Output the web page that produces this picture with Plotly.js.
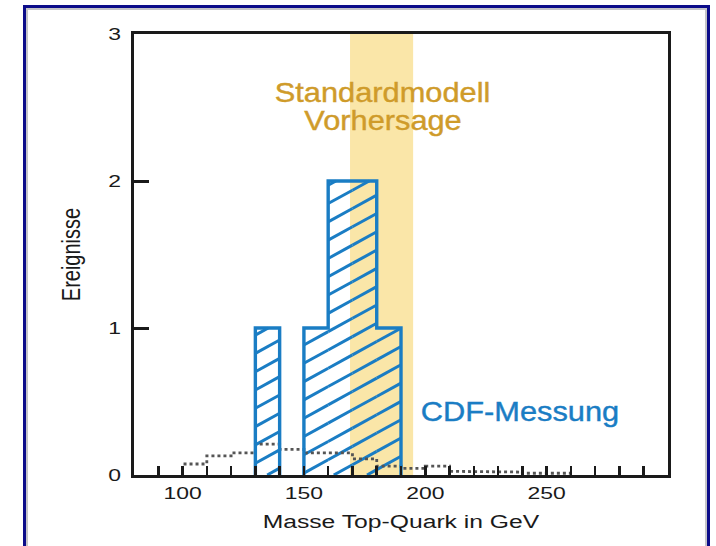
<!DOCTYPE html>
<html>
<head>
<meta charset="utf-8">
<script src="https://cdn.plot.ly/plotly-3.0.1.min.js"></script>
<style>
  html, body { margin:0; padding:0; background:#ffffff; overflow:hidden; }
  #wrap { position:relative; width:716px; height:546px; }
  #chart { position:absolute; left:0; top:0; width:716px; height:546px; }
  #frame { position:absolute; left:23px; top:5px; width:681px; height:560px;
           border:3.5px solid #0c0c8a; box-shadow: inset 0 0 0 2px #c4c4c8; pointer-events:none; }
</style>
</head>
<body>
<div id="wrap">
  <div id="chart"></div>
  <div id="frame"></div>
</div>
<script>
// ---- data ----
const cdfBinLeft   = [130, 140, 150, 160, 170, 180];   // GeV, bin width 10
const cdfCounts    = [1, 0, 1, 2, 2, 1];               // events per bin
const binWidth     = 10;

const bgBinLeft    = [100, 110, 120, 130, 140, 150, 160, 170, 180, 190, 200, 210, 220, 230, 240, 250];
const bgValues     = [0.075, 0.13, 0.15, 0.21, 0.175, 0.15, 0.15, 0.11, 0.06, 0.045, 0.06, 0.025, 0.025, 0.02, 0.012, 0.012];

const smBand       = [169, 195];                       // Standard model prediction range (GeV)

const xTickVals    = [90,100,110,120,130,140,150,160,170,180,190,200,210,220,230,240,250,260,270,280,290];
const xTickLabels  = ["","100","","","","","150","","","","","200","","","","","250","","","",""];
const yTickVals    = [0, 1, 2, 3];
const yTickLabels  = ["0", "1", "2", "3"];

// ---- style constants ----
const W = 716, H = 546;
const M = {l:134, r:48, t:34, b:71};
const xRange = [80, 300], yRange = [0, 3];
const blue = '#1a7dc4', gold = '#cf9b2a', band = '#fae6a8', axisCol = '#1a1a1a';
const font = 'Liberation Sans, Arial, sans-serif';

// ---- build step outline of a histogram ----
function stepPath(lefts, vals, w, closeToZero) {
  const xs = [], ys = [];
  let open = false;
  for (let i = 0; i < lefts.length; i++) {
    const x0 = lefts[i], x1 = lefts[i] + w, v = vals[i];
    if (v > 0) {
      if (!open) { xs.push(x0); ys.push(0); open = true; }
      xs.push(x0, x1); ys.push(v, v);
      const next = (i + 1 < lefts.length && lefts[i+1] === x1) ? vals[i+1] : 0;
      if (next <= 0) { xs.push(x1, null); ys.push(closeToZero ? 0 : v, null); open = false; }
    }
  }
  return {xs, ys};
}

const cdfOutline = stepPath(cdfBinLeft, cdfCounts, binWidth, true);
const bgOutline  = stepPath(bgBinLeft, bgValues, binWidth, false);

// ---- hatch lines, computed from bins through the axis scales ----
const plotW = W - M.l - M.r, plotH = H - M.t - M.b;
const pxX = plotW / (xRange[1] - xRange[0]);
const pxY = plotH / (yRange[1] - yRange[0]);
const hatchSlopePx = 0.55, hatchGapPx = 18.3, hatchPhase = 0.02;
const k = hatchSlopePx * pxX / pxY;
const dc = hatchGapPx / pxY;
const hx = [], hy = [];
for (let i = 0; i < cdfBinLeft.length; i++) {
  const h = cdfCounts[i];
  if (h <= 0) continue;
  const x0 = cdfBinLeft[i], x1 = x0 + binWidth;
  const nMin = Math.floor((0 - k * x1 - hatchPhase) / dc) - 1;
  const nMax = Math.ceil((h - k * x0 - hatchPhase) / dc) + 1;
  for (let n = nMin; n <= nMax; n++) {
    const c = hatchPhase + n * dc;
    const y0 = c + k * x0, y1 = c + k * x1;
    if (y1 <= 0 || y0 >= h) continue;
    let xs = x0, ys = y0, xe = x1, ye = y1;
    if (y0 < 0) { xs = (0 - c) / k; ys = 0; }
    if (y1 > h) { xe = (h - c) / k; ye = h; }
    hx.push(xs, xe, null); hy.push(ys, ye, null);
  }
}

const traces = [
  { x: hx, y: hy, mode: 'lines', line: {color: blue, width: 3}, hoverinfo: 'skip', showlegend: false },
  { x: bgOutline.xs, y: bgOutline.ys, mode: 'lines', line: {color: '#555555', width: 2.8, dash: '3px,3px'}, hoverinfo: 'skip', showlegend: false },
  { x: cdfOutline.xs, y: cdfOutline.ys, mode: 'lines', line: {color: blue, width: 3.4, shape: 'linear'}, hoverinfo: 'skip', showlegend: false }
];

const layout = {
  width: W, height: H,
  margin: M,
  paper_bgcolor: '#ffffff', plot_bgcolor: '#ffffff',
  showlegend: false,
  font: {family: font, color: axisCol},
  xaxis: {
    range: xRange, tickmode: 'array', tickvals: xTickVals, ticktext: xTickLabels,
    ticks: 'inside', ticklen: 9, tickwidth: 2.5, tickcolor: axisCol,
    showline: true, linewidth: 3.3, linecolor: axisCol, mirror: true,
    showgrid: false, zeroline: false, fixedrange: true,
    tickfont: {family: font, size: 17, color: axisCol},
    ticklabelstandoff: 0,
    title: {text: 'Masse Top-Quark in GeV', font: {family: font, size: 19, color: axisCol}, standoff: 14}
  },
  yaxis: {
    range: yRange, tickmode: 'array', tickvals: yTickVals, ticktext: yTickLabels,
    ticks: 'inside', ticklen: 15, tickwidth: 3, tickcolor: axisCol,
    showline: true, linewidth: 3.3, linecolor: axisCol, mirror: true,
    showgrid: false, zeroline: false, fixedrange: true,
    tickfont: {family: font, size: 17, color: axisCol},
    ticklabelstandoff: 8,
    title: {text: 'Ereignisse', font: {family: font, size: 20, color: axisCol}, standoff: 27}
  },
  shapes: [
    { type: 'rect', xref: 'x', yref: 'paper', x0: smBand[0], x1: smBand[1], y0: 0, y1: 1,
      fillcolor: band, line: {width: 0}, layer: 'below' }
  ],
  annotations: [
    { text: 'Standardmodell', xref: 'x', yref: 'y', x: 182.5, y: 2.6, showarrow: false,
      font: {family: font, size: 27, color: gold}, xanchor: 'center', yanchor: 'middle' },
    { text: 'Vorhersage', xref: 'x', yref: 'y', x: 182.5, y: 2.405, showarrow: false,
      font: {family: font, size: 27, color: gold}, xanchor: 'center', yanchor: 'middle' },
    { text: 'CDF-Messung', xref: 'x', yref: 'y', x: 239, y: 0.43, showarrow: false,
      font: {family: font, size: 27, color: blue}, xanchor: 'center', yanchor: 'middle' }
  ]
};

function stretch(sel, sx, sy) {
  document.querySelectorAll(sel).forEach(el => {
    if (!el.textContent) return;
    const b = el.getBBox();
    const cx = b.x + b.width / 2, cy = b.y + b.height / 2;
    const prev = el.getAttribute('transform') || '';
    el.setAttribute('transform', prev + ` translate(${cx},${cy}) scale(${sx},${sy}) translate(${-cx},${-cy})`);
  });
}

Plotly.newPlot('chart', traces, layout, {staticPlot: true, displayModeBar: false}).then(() => {
  stretch('.xtick text', 1.35, 1);
  stretch('.ytick text', 1.35, 1);
  stretch('text.xtitle', 1.3, 1);
  stretch('text.ytitle', 1, 1.3);
  stretch('text.annotation-text', 1.14, 1);
  document.querySelectorAll('text.annotation-text').forEach(el => { el.style.stroke = el.style.fill; el.style.strokeWidth = '0.4px'; });
});
</script>
</body>
</html>
